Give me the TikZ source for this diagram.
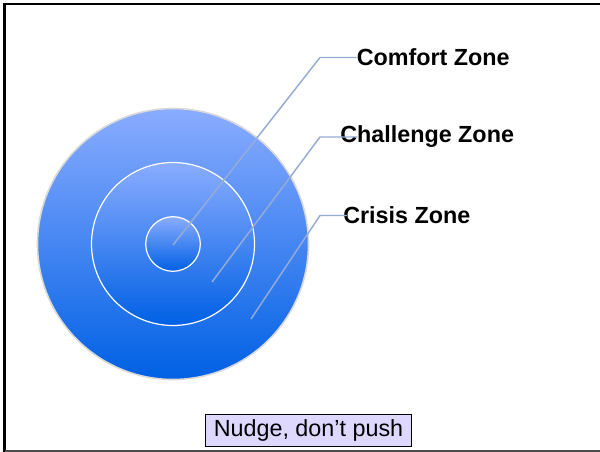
\documentclass[tikz,border=0pt]{standalone}
\usepackage{fontspec}
\setmainfont{Liberation Sans}
\begin{document}
\begin{tikzpicture}[x=0.75pt,y=-0.75pt,
  zone/.style={draw=white,line width=0.9pt,top color=zonetop,middle color=zonemid,bottom color=zonebot},
  leader/.style={draw=leadercol,line width=1.1pt},
  zonelabel/.style={anchor=west,inner sep=0pt,font=\fontsize{17.5}{20}\selectfont\bfseries},
  notebox/.style={draw=black,line width=0.8pt,fill=notefill,inner sep=0pt,
    minimum width=155pt,minimum height=24.5pt,
    font=\fontsize{17.5}{20}\selectfont}]
\definecolor{zonetop}{RGB}{138,172,255}
\definecolor{zonemid}{RGB}{98,148,248}
\definecolor{zonebot}{RGB}{0,96,228}
\definecolor{leadercol}{RGB}{150,172,214}
\definecolor{notefill}{RGB}{222,216,255}
\useasboundingbox (0,0) rectangle (600,452);
\fill[white] (0,0) rectangle (600,452);
% frame
\draw[black,line width=2.2pt] (4.5,452) -- (4.5,4) -- (600,4);
\draw[black!70,line width=1.2pt] (4.5,450.8) -- (600,450.8);
% target circles
\coordinate (c) at (173,244);
\shade[zone,draw=black!15,line width=1.2pt] (c) circle[radius=135.5];
\shade[zone] (c) circle[radius=81.5];
\shade[zone] (c) circle[radius=27.3];
% leader end points
\coordinate (p1) at (173,245);
\coordinate (p2) at (212,282);
\coordinate (p3) at (251,319);
% labels
\node[zonelabel] (comfort) at (356.5,57.5) {Comfort Zone};
\node[zonelabel] (challenge) at (340,137) {Challenge Zone};
\node[zonelabel] (crisis) at (343,215.5) {Crisis Zone};
% leaders
\draw[leader] (p1) -- (320,57.5) -- (comfort.west);
\draw[leader] (p2) -- (320,137) -- ([xshift=13pt]challenge.west);
\draw[leader] (p3) -- (320,215.5) -- ([xshift=3pt]crisis.west);
% note
\node[notebox] (note) at (308.5,430.5) {Nudge, don't push};
\end{tikzpicture}
\end{document}
